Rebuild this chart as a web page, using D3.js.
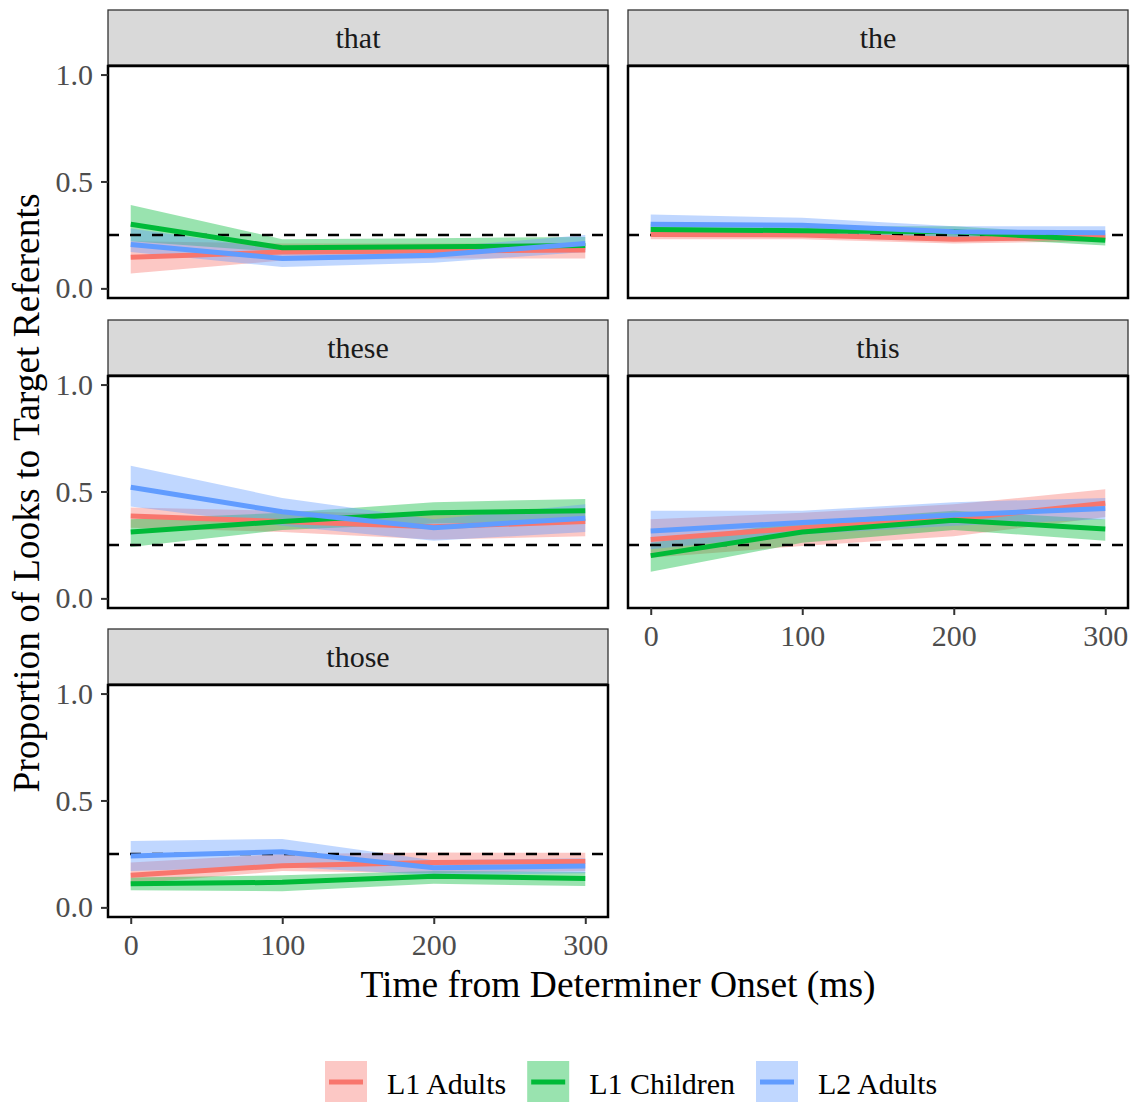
<!DOCTYPE html>
<html>
<head>
<meta charset="utf-8">
<script src="https://cdn.jsdelivr.net/npm/d3@7"></script>
<style>
  body { margin: 0; background: #fff; }
  svg { display: block; font-family: "Liberation Serif", "Times New Roman", serif; }
</style>
</head>
<body>
<div id="chart"></div>
<script>
// ---- data ----
const determiners = ["that", "the", "these", "this", "those"];
const groups = ["L1 Adults", "L1 Children", "L2 Adults"];
const times = [0, 100, 200, 300];
const chance = 0.25;

// each row: L1 Adults, L1 Children, L2 Adults
const thatMean  = [[0.145, 0.17, 0.175, 0.18], [0.30, 0.19, 0.195, 0.20], [0.205, 0.14, 0.155, 0.21]];
const thatLow   = [[0.07, 0.13, 0.14, 0.14], [0.22, 0.17, 0.175, 0.18], [0.17, 0.10, 0.12, 0.17]];
const thatHigh  = [[0.22, 0.21, 0.21, 0.21], [0.39, 0.23, 0.235, 0.24], [0.28, 0.18, 0.19, 0.25]];

const theMean   = [[0.252, 0.25, 0.23, 0.24], [0.275, 0.27, 0.265, 0.225], [0.30, 0.295, 0.265, 0.26]];
const theLow    = [[0.23, 0.23, 0.21, 0.22], [0.25, 0.25, 0.24, 0.20], [0.26, 0.26, 0.24, 0.235]];
const theHigh   = [[0.27, 0.27, 0.25, 0.26], [0.30, 0.29, 0.29, 0.25], [0.345, 0.33, 0.29, 0.29]];

const theseMean = [[0.385, 0.36, 0.335, 0.36], [0.31, 0.36, 0.40, 0.41], [0.52, 0.405, 0.33, 0.375]];
const theseLow  = [[0.33, 0.31, 0.275, 0.29], [0.24, 0.32, 0.35, 0.36], [0.43, 0.34, 0.27, 0.31]];
const theseHigh = [[0.425, 0.41, 0.39, 0.40], [0.37, 0.40, 0.45, 0.465], [0.62, 0.47, 0.37, 0.44]];

const thisMean  = [[0.275, 0.33, 0.37, 0.445], [0.20, 0.31, 0.365, 0.325], [0.315, 0.355, 0.39, 0.42]];
const thisLow   = [[0.19, 0.245, 0.29, 0.38], [0.125, 0.26, 0.32, 0.27], [0.23, 0.30, 0.34, 0.37]];
const thisHigh  = [[0.37, 0.40, 0.44, 0.51], [0.26, 0.36, 0.41, 0.37], [0.41, 0.41, 0.45, 0.47]];

const thoseMean = [[0.15, 0.195, 0.21, 0.215], [0.11, 0.117, 0.146, 0.135], [0.24, 0.26, 0.185, 0.193]];
const thoseLow  = [[0.11, 0.17, 0.16, 0.17], [0.08, 0.076, 0.11, 0.10], [0.17, 0.19, 0.15, 0.16]];
const thoseHigh = [[0.21, 0.25, 0.257, 0.255], [0.14, 0.15, 0.17, 0.165], [0.31, 0.32, 0.22, 0.23]];

const yTicks = [0, 0.5, 1.0];
const xTicks = [0, 100, 200, 300];

const panelData = {
  that:  { mean: thatMean,  low: thatLow,  high: thatHigh },
  the:   { mean: theMean,   low: theLow,   high: theHigh },
  these: { mean: theseMean, low: theseLow, high: theseHigh },
  this:  { mean: thisMean,  low: thisLow,  high: thisHigh },
  those: { mean: thoseMean, low: thoseLow, high: thoseHigh }
};

// ---- layout ----
const width = 1132, height = 1102;
const colLeft = [108, 628];
const panelW = 500;
const stripTop = [10, 320, 629];
const stripH = 55;
const panelH = 232;
const baseFont = 30;
const titleFont = 37.5;
const colors = d3.scaleOrdinal().domain(groups).range(["#F8766D", "#00BA38", "#619CFF"]);

const x = d3.scaleLinear().domain([-15, 315]).range([0, panelW]);
const y = d3.scaleLinear().domain([-0.045, 1.04]).range([panelH, 0]);

const svg = d3.select("#chart").append("svg")
  .attr("width", width).attr("height", height);

const area = d3.area()
  .x((d, i) => x(times[i]))
  .y0(d => y(d[0]))
  .y1(d => y(d[1]));
const line = d3.line()
  .x((d, i) => x(times[i]))
  .y(d => y(d));

determiners.forEach((det, k) => {
  const col = k % 2, row = Math.floor(k / 2);
  const left = colLeft[col];
  const top = stripTop[row] + stripH + 1;
  const pd = panelData[det];

  // strip
  svg.append("rect")
    .attr("x", left).attr("y", stripTop[row])
    .attr("width", panelW).attr("height", stripH)
    .attr("fill", "#D9D9D9").attr("stroke", "#333").attr("stroke-width", 1.3);
  svg.append("text")
    .attr("x", left + panelW / 2).attr("y", stripTop[row] + stripH / 2)
    .attr("dy", "0.35em").attr("text-anchor", "middle")
    .attr("font-size", baseFont).attr("fill", "#1A1A1A")
    .text(det);

  const g = svg.append("g").attr("transform", `translate(${left},${top})`);

  g.append("rect").attr("width", panelW).attr("height", panelH).attr("fill", "#fff");

  // ribbons
  groups.forEach((grp, gi) => {
    const band = pd.low[gi].map((v, i) => [v, pd.high[gi][i]]);
    g.append("path").datum(band)
      .attr("d", area)
      .attr("fill", colors(grp)).attr("fill-opacity", 0.4);
  });

  // chance line
  g.append("line")
    .attr("x1", 0).attr("x2", panelW)
    .attr("y1", y(chance)).attr("y2", y(chance))
    .attr("stroke", "#000").attr("stroke-width", 2.5)
    .attr("stroke-dasharray", "11,11");

  // mean lines
  groups.forEach((grp, gi) => {
    g.append("path").datum(pd.mean[gi])
      .attr("d", line)
      .attr("fill", "none")
      .attr("stroke", colors(grp)).attr("stroke-width", 5);
  });

  // border
  g.append("rect").attr("width", panelW).attr("height", panelH)
    .attr("fill", "none").attr("stroke", "#000").attr("stroke-width", 2.5);

  // y axis on left column
  if (col === 0) {
    const yAxis = g.append("g")
      .call(d3.axisLeft(y).tickValues(yTicks).tickFormat(d3.format(".1f")).tickSize(7).tickPadding(8));
    yAxis.select(".domain").remove();
    yAxis.selectAll("line").attr("stroke", "#333").attr("stroke-width", 2);
    yAxis.selectAll("text").attr("font-size", baseFont).attr("fill", "#4D4D4D")
      .attr("font-family", "Liberation Serif, serif");
  }

  // x axis on bottom panel of each column
  if (det === "this" || det === "those") {
    const xAxis = g.append("g").attr("transform", `translate(0,${panelH})`)
      .call(d3.axisBottom(x).tickValues(xTicks).tickSize(7).tickPadding(10));
    xAxis.select(".domain").remove();
    xAxis.selectAll("line").attr("stroke", "#333").attr("stroke-width", 2);
    xAxis.selectAll("text").attr("font-size", baseFont).attr("fill", "#4D4D4D")
      .attr("font-family", "Liberation Serif, serif");
  }
});

// axis titles
svg.append("text")
  .attr("x", (colLeft[0] + colLeft[1] + panelW) / 2).attr("y", 997)
  .attr("text-anchor", "middle").attr("font-size", titleFont).attr("fill", "#000")
  .text("Time from Determiner Onset (ms)");
svg.append("text")
  .attr("transform", `translate(39,${(stripTop[0] + stripTop[2] + stripH + panelH) / 2 + 30}) rotate(-90)`)
  .attr("text-anchor", "middle").attr("font-size", titleFont).attr("fill", "#000")
  .text("Proportion of Looks to Target Referents");

// legend
const legend = svg.append("g").attr("transform", "translate(325,1061)");
let lx = 0;
groups.forEach(grp => {
  const item = legend.append("g").attr("transform", `translate(${lx},0)`);
  item.append("rect").attr("width", 42).attr("height", 42)
    .attr("fill", colors(grp)).attr("fill-opacity", 0.4);
  item.append("line").attr("x1", 4).attr("x2", 38).attr("y1", 21).attr("y2", 21)
    .attr("stroke", colors(grp)).attr("stroke-width", 5);
  const t = item.append("text").attr("x", 62).attr("y", 22).attr("dy", "0.35em")
    .attr("font-size", baseFont).attr("fill", "#000").text(grp);
  lx += 62 + t.node().getComputedTextLength() + 21;
});
</script>
</body>
</html>
